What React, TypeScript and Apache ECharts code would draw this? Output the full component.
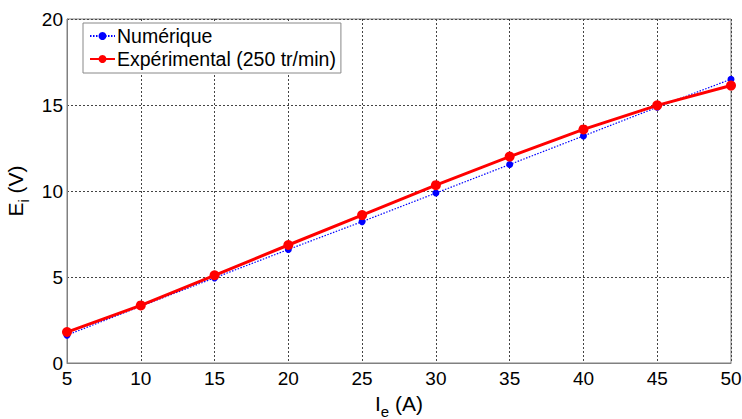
import React, { useEffect, useRef } from "react";
import * as echarts from "echarts";

const currents = [5, 10, 15, 20, 25, 30, 35, 40, 45, 50];
const numerique = [1.62, 3.3, 4.95, 6.6, 8.22, 9.88, 11.54, 13.2, 14.87, 16.5];
const experimental = [1.8, 3.35, 5.1, 6.86, 8.6, 10.34, 12.0, 13.58, 14.98, 16.13];
const legendNames = ["Numérique", "Expérimental (250 tr/min)"];

const FONT = "'Liberation Sans', Arial, Helvetica, sans-serif";

export default function App() {
  const ref = useRef<HTMLDivElement>(null);
  useEffect(() => {
    if (!ref.current) return;
    const chart = echarts.init(ref.current, undefined, { renderer: "svg" });
    const gridLine = { show: true, lineStyle: { color: "#444", type: [2, 2] as any, width: 1 } };
    chart.setOption({
      animation: false,
      backgroundColor: "#fff",
      textStyle: { fontFamily: FONT },
      grid: {
        left: 67,
        right: 11,
        top: 19,
        bottom: 56,
        containLabel: false,
        outerBoundsMode: "none",
        show: true,
        borderColor: "#808080",
        borderWidth: 1,
        backgroundColor: "transparent",
      },
      legend: {
        left: 83,
        top: 23,
        orient: "vertical",
        backgroundColor: "#fff",
        borderColor: "#888",
        borderWidth: 1,
        borderRadius: 0,
        padding: [3, 5, 4, 6],
        itemGap: 3,
        itemWidth: 25,
        itemHeight: 10,
        textStyle: { fontFamily: FONT, fontSize: 19.5, color: "#000", padding: [0, 0, 0, -3] },
        data: legendNames,
      },
      xAxis: {
        type: "value",
        min: 5,
        max: 50,
        interval: 5,
        name: "{a|I}{b|e}{a| (A)}",
        nameLocation: "middle",
        nameGap: 21,
        nameTextStyle: {
          rich: {
            a: { fontFamily: FONT, fontSize: 21, color: "#000" },
            b: { fontFamily: FONT, fontSize: 15, color: "#000", padding: [16, 0, 0, 0] },
          },
        },
        axisLine: { show: true, lineStyle: { color: "#808080", width: 1 } },
        axisTick: { show: false },
        axisLabel: { color: "#000", fontSize: 19, fontFamily: FONT, margin: 6 },
        splitLine: gridLine,
      },
      yAxis: {
        type: "value",
        min: 0,
        max: 20,
        interval: 5,
        name: "{a|E}{b|i}{a| (V)}",
        nameLocation: "middle",
        nameGap: 33,
        nameRotate: 90,
        nameTextStyle: {
          rich: {
            a: { fontFamily: FONT, fontSize: 21, color: "#000" },
            b: { fontFamily: FONT, fontSize: 15, color: "#000", padding: [16, 0, 0, 0] },
          },
        },
        axisLine: { show: true, lineStyle: { color: "#808080", width: 1 } },
        axisTick: { show: false },
        axisLabel: { color: "#000", fontSize: 19, fontFamily: FONT, margin: 4 },
        splitLine: gridLine,
      },
      series: [
        {
          name: legendNames[0],
          type: "line",
          data: currents.map((x, i) => [x, numerique[i]]),
          color: "#0000ff",
          symbol: "circle",
          symbolSize: 7,
          lineStyle: { color: "#0000ff", width: 1.2, type: [1.5, 1.5] as any },
          itemStyle: { color: "#0000ff" },
          z: 2,
        },
        {
          name: legendNames[1],
          type: "line",
          data: currents.map((x, i) => [x, experimental[i]]),
          color: "#ff0000",
          symbol: "circle",
          symbolSize: 10,
          lineStyle: { color: "#ff0000", width: 3 },
          itemStyle: { color: "#ff0000" },
          z: 3,
        },
      ],
    });
    return () => chart.dispose();
  }, []);
  return <div ref={ref} style={{ width: 742, height: 419, position: "absolute", left: 0, top: 0 }} />;
}
